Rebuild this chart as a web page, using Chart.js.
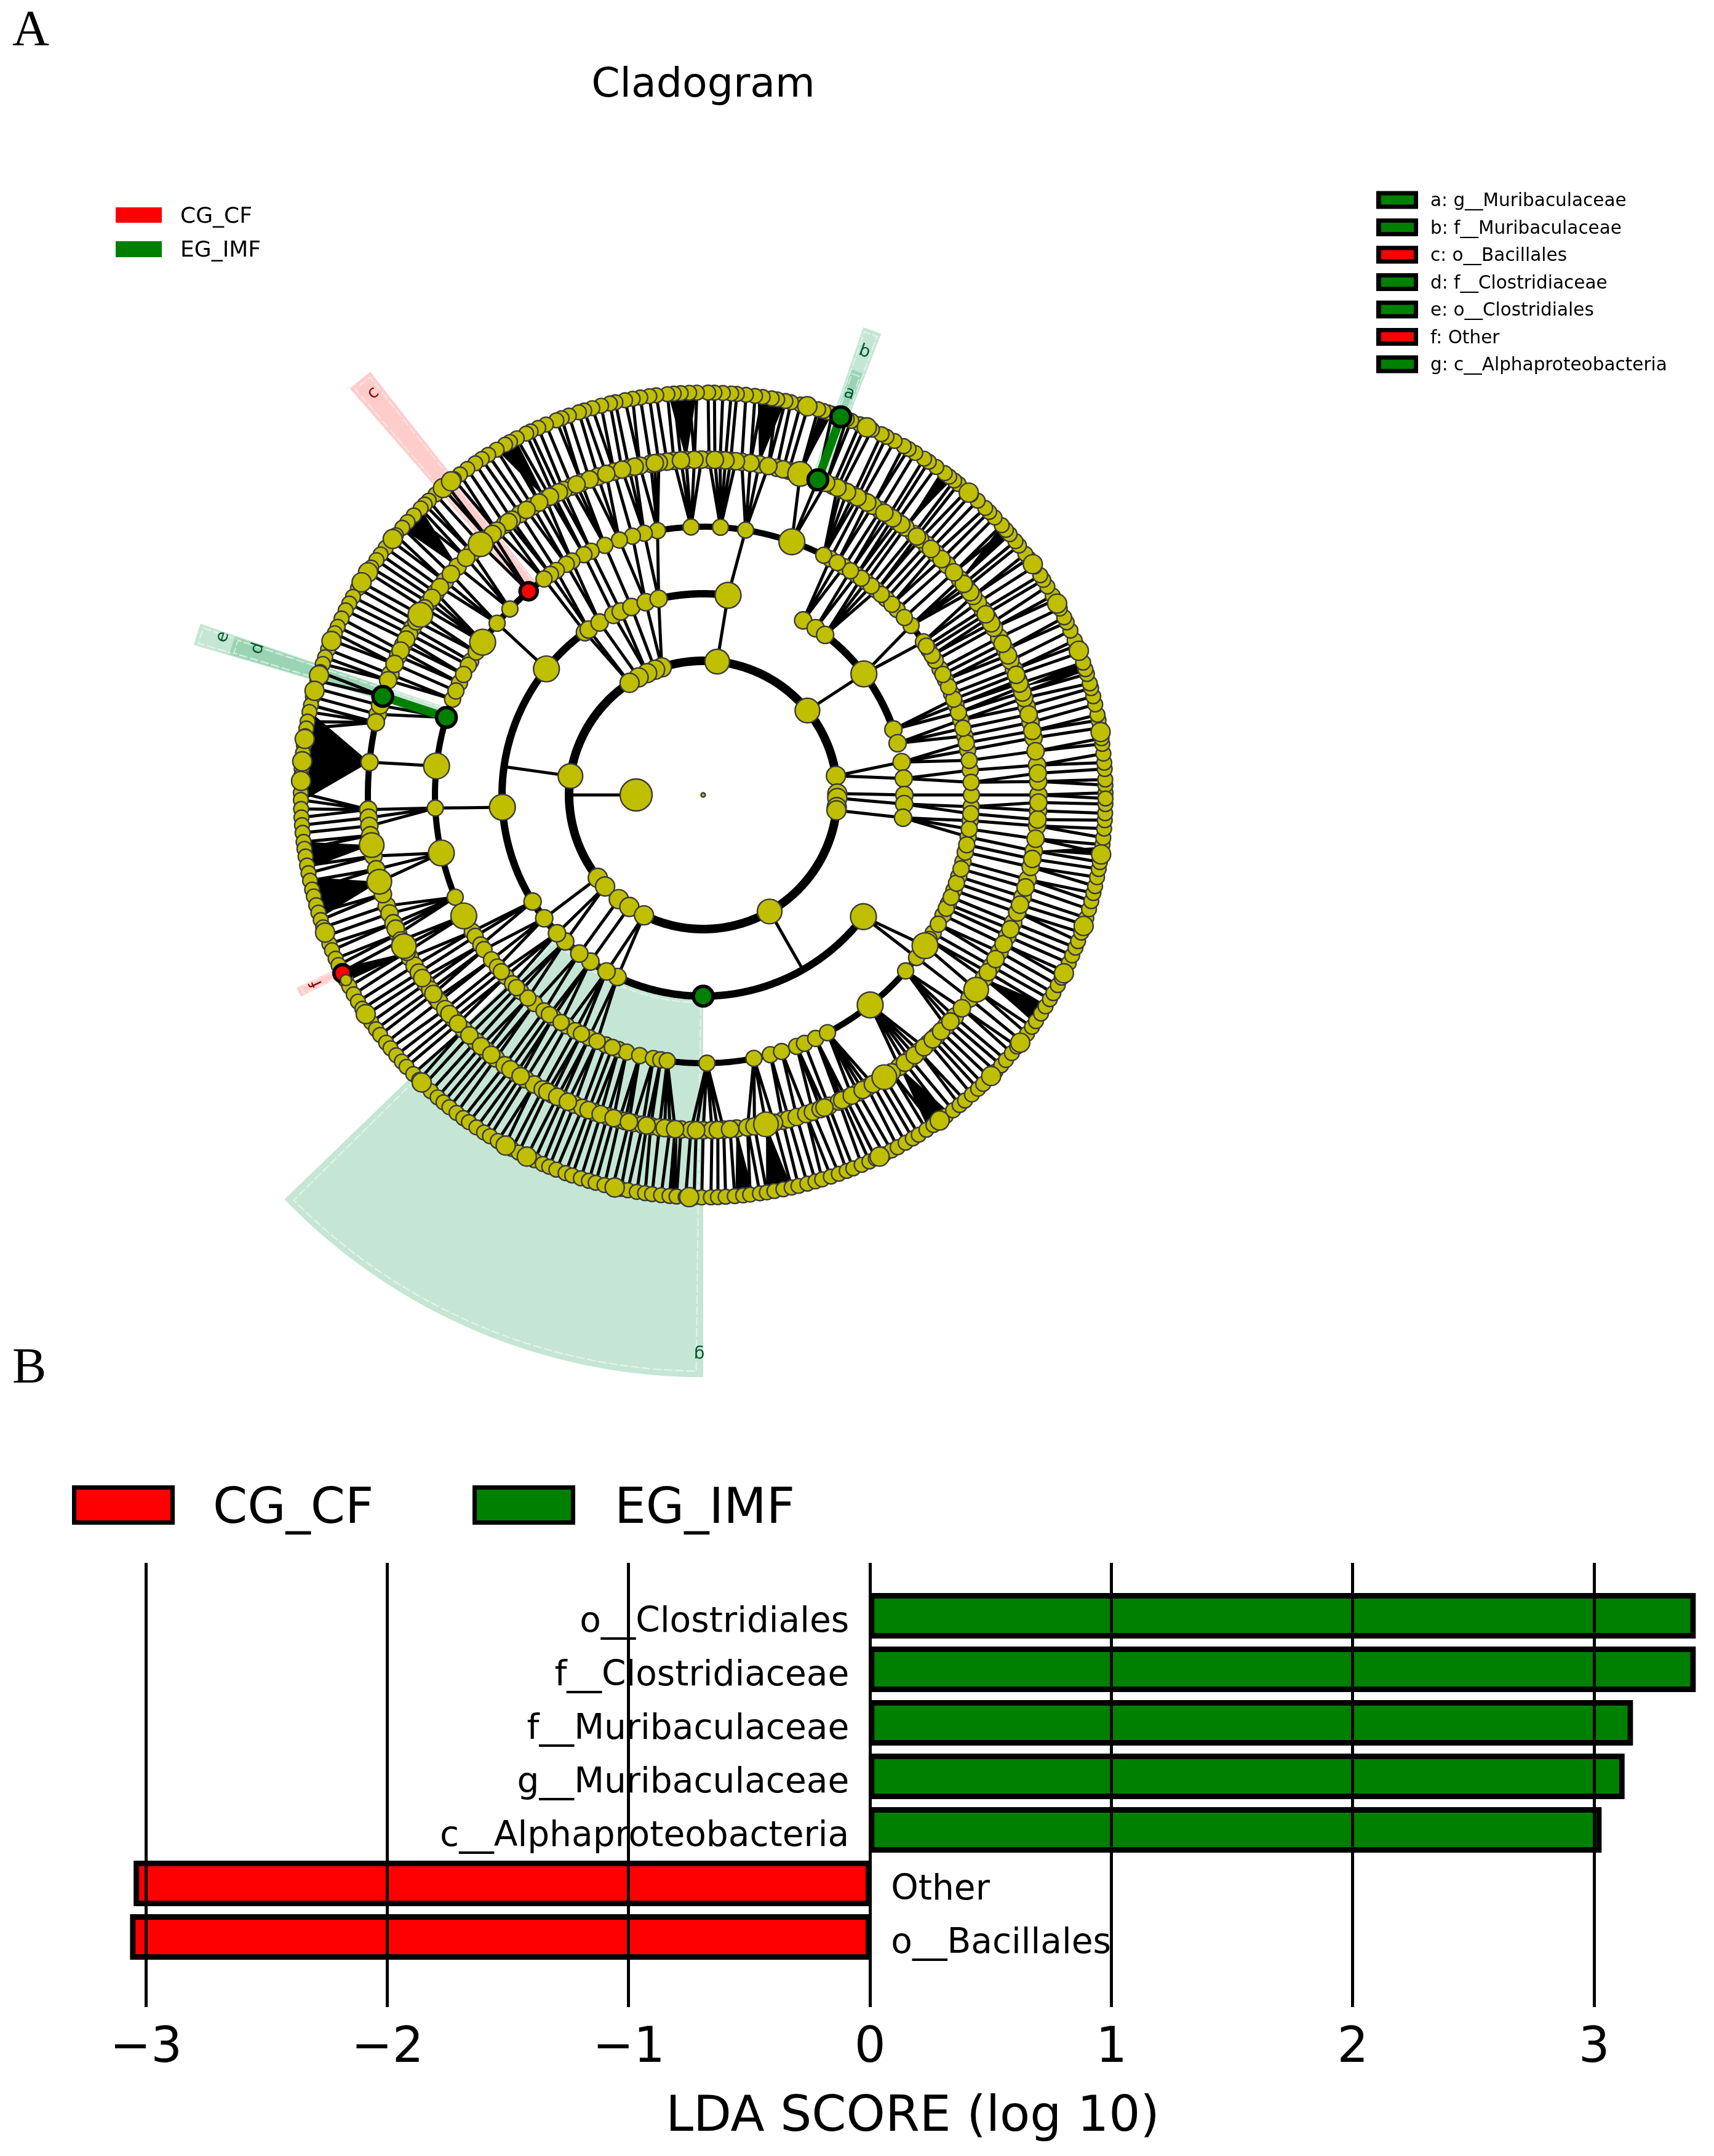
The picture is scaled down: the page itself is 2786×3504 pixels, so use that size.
<!DOCTYPE html>
<html><head><meta charset="utf-8">
<script src="https://cdn.jsdelivr.net/npm/chart.js@4"></script>
<style>html,body{margin:0;padding:0;background:#fff}canvas{position:absolute;left:0}</style>
</head><body>
<canvas id="clad" width="2786" height="2300" style="top:0"></canvas>
<canvas id="bars" width="2786" height="1204" style="top:2300px"></canvas>
<script>
/* ---------- Panel B values ---------- */
const taxaUp=['o__Clostridiales','f__Clostridiaceae','f__Muribaculaceae','g__Muribaculaceae','c__Alphaproteobacteria'];
const taxaDown=['Other','o__Bacillales'];
const ldaImf=[3.41,3.41,3.15,3.115,3.02];
const ldaCf=[-3.04,-3.055];
const groups=['CG_CF','EG_IMF'];
const biomarkers=['a: g__Muribaculaceae','b: f__Muribaculaceae','c: o__Bacillales','d: f__Clostridiaceae','e: o__Clostridiales','f: Other','g: c__Alphaproteobacteria'];
const biomarkerGroup=[1,1,0,1,1,0,1];

/* ---------- Panel A values: node angle (degrees) at each taxonomic level ---------- */
const kingdomNodes=[180];
const phylumNodes=[8.2,0.6,358.7,354.8,353.4,39,84,108,111,114.7,118.8,123.3,171.9,218.2,223,231,236.6,243.8,299.7];
const phylumBig=[39,84,171.9,299.7];
const classNodes=[322.8,244.8,241.3,235.9,232,226.7,223.4,217.8,212,183.5,141.2,126,124.7,121,116.5,114.2,110.9,106.6,102.8,82.9,60.2,56,52.7,37,19,14.9,9.4,4.7,0,357.4,353.5];
const classBig=[322.8,183.5,141.2,82.9,37];
const orderNodes=[136.1,140.2,145.3,150.1,151.1,155.3,159.1,173.8,182.8,192.5,202.4,206.8,210.6,211.8,214,215.2,217.9,219.9,222.6,224.7,227.1,231,233.6,236,239.4,241.5,244.8,248.7,251.6,253.4,256.3,259.3,260.9,262.3,270.8,280.9,284.5,287,290.4,292.2,294.8,297.6,308.5,319,322.7,325.8,329,333.4,336,339.2,342.3,345.6,347.7,351,354.5,357.5,0,5.3,9.6,12.7,16.2,19.6,22.2,25.4,28,30.1,32.7,34.8,39.2,43.7,47,49.7,52.6,55.1,58.3,61.7,63.3,70.7,80.9,86.3,92.6,99.8,102.7,105.3,108.2,111.5,114.7,116.4,119.3,120.7,123.2,124.7,126.4,2.7,7.4,11.2,14.4,17.9,20.9,23.8,26.7,31.4,33.7,41.4,45.3,48.4,51.2,53.9,56.7,60,327.4,331.2,335,337.6,340.8,344,349.3,352.7,356,229.2,225.9,221.2,246.7,250.2,235,238,243,147.8,153.3,157.2];
const orderBig=[70.7,145.3,206.8,308.5,325.8,192.5,173.8];
const familyNodes=[182.5,183.9,185.3,188.6,195,199.3,200.7,202.5,204.5,206.8,209,210.6,212,214.2,215.5,217.3,218,219.7,221.9,224.4,227.3,229.7,231.8,233.7,236.1,238,239.7,241.4,243.2,245.1,247.4,248.9,251,253.4,255.5,256.5,258,259.6,261,262.5,264.3,266.2,267.9,270,271.5,273.5,275.7,277.6,280.8,283.7,284.8,286.2,287.9,289.1,290.5,292,293.9,295.2,297.5,299.3,301.6,302.7,305.8,308.1,310.1,312.3,314.1,316.4,318.6,322.6,324.5,326.9,329.3,332.1,335.1,337.6,339.5,342.3,345.4,347.6,350.4,354.7,357.3,0,2.3,5.1,9.8,12.5,15.3,16.8,18.7,20,22,23.6,25.7,28,29.9,31.8,33.5,35,38.2,40,43.3,46.1,48.3,49.7,51.1,52.9,54.7,56.4,58.1,59.6,61.8,63.4,65.7,67.2,73.2,75.2,77.3,80.4,83.4,85.3,87.1,89,90.3,92.9,95,96.2,97.6,99,100.9,102.8,105.4,108.3,111.3,113.1,114.6,116.5,118,120.6,123.1,124.8,126.3,130,131.6,133.6,137.1,140.4,142.9,145,147.5,150.1,151.3,153.4,155.5,158.9,166.1,174.4,
3.7,7.5,11,13.9,17.8,19.4,21,24.6,26.8,30.8,32.6,36.4,37.2,39,41.6,44.7,47.2,50.4,53.8,55.6,57.3,60.7,62.6,64.6,66.4,68.5,74.3,76.2,78.8,81.9,84.4,86.2,88,91.5,93.8,98.3,101.8,104,106.8,109.8,112.2,115.5,117.2,119.3,121.8,125.5,128,128.9,135,138.8,141.7,144,146.2,148.8,152.4,154.5,157,160,164.5,167.5,186.9,190.5,192.8,197.2,203.5,205.7,207.9,213.1,216.4,220.8,223,225.8,228.5,230.8,234.9,237,242.3,244.2,246.2,250,252.2,254.5,257.2,260.3,263.4,265.2,268.8,272.5,274.6,278.8,282.2,291.2,294.5,296.3,298.4,300.4,304.2,307,309.1,311.2,313.2,315.2,317.5,320.5,328.1,330.7,333.6,336.4,340.9,344,349,352.5,355.8,358.7];
const familyBig=[206.8,324.5,302.7,147.5,195,188.6,73.2,131.6,280.8];
const genusNodes=[0.3,1.4,2.2,3.7,4.6,5.9,7.3,8.1,9.6,10.7,11.5,13,14.2,15.4,16.1,17.5,18.2,19.2,20.7,21.8,22.6,24.1,25.4,26.2,27.6,29,29.7,31.2,32.3,33.1,34.6,36,36.8,38.3,39.1,40.4,41.2,42.1,43.6,44.7,45.5,47,48.3,49.1,50.6,51.4,52.3,53.1,54.6,55.9,56.7,58.2,59.3,60.1,61.6,62.9,63.7,65.2,66.3,67.1,68.4,69.1,71.3,71.9,72.6,73.4,74.9,76,77.4,78.2,79.4,80.2,81.5,82.6,83.9,85.2,86,87.2,88.4,89.3,90.9,92,93.2,94.2,95.1,96.7,97.7,99,100.1,101.2,102.6,103.4,104.7,106,107.2,108,109.5,110.6,111.4,113,114.2,115.4,116.1,117.6,118.7,119.5,120.9,122.3,123.4,124.5,125.9,127.2,128.3,129.6,130.3,131.7,133,133.8,134.6,136,137.3,138.4,139.8,140.8,142.1,143.3,144.3,145.6,146.4,148.1,149.1,150.5,151.6,152.7,154,155.3,156.3,157.4,158.8,160,161,162.2,163.5,164.6,165.9,167.1,168.1,169.5,170.5,171.6,172.9,174,175,176.3,177.3,178.4,179.7,180.7,182,183.2,184.3,185.4,186.7,187.7,188.8,190.1,191.2,192.3,193.6,194.6,195.9,197,198.1,199.2,200.5,201.7,202.7,204,205,206.1,207.4,208.4,209.7,210.9,212.1,213.1,214.4,215.6,216.6,218,219,220.3,221.5,222.5,223.9,225.1,226.1,227.4,228.7,229.8,230.9,232.2,233.4,234.4,235.7,237,238,239.3,240.5,241.6,242.7,244,245.2,246.5,247.5,248.6,250,251,252.3,253.5,254.5,255.8,257,258.2,259.2,260.5,261.7,262.7,264,265.2,266.2,267.5,268.7,269.8,271.1,272.1,273.2,274.5,275.7,276.7,278.1,279.1,280.2,281.5,282.7,283.7,285,286.2,287.2,288.5,289.7,290.9,291.9,293.2,294.4,295.4,296.7,297.9,298.9,300.2,301.4,302.4,303.7,304.9,306.1,307.1,308.4,309.6,310.6,311.9,313.1,314.1,315.4,316.6,317.8,318.8,320.1,321.3,322.3,323.6,324.8,325.8,327.1,328.3,329.5,330.5,331.8,333,334,335.3,336.5,337.7,338.7,340,341.2,342.2,343.5,344.7,345.9,346.9,348.2,349.4,350.4,351.7,352.9,353.9,355.2,356.4,357.4,358.7,359.5];
const genusBig=[130.3,146.4,148.1,162.7,157.5,333.7,296,306,244,178,175.2,172,165,140.5,128.8,75,66,48.7,35,28.4,21,9,351.5,341,322,315.7,268,257.3,240.6,225.6,213,200];
/* biomarker nodes */
const greenNodes=[[3,270],[4,163.2],[5,162.9],[5,70],[6,70]];
const redNodes=[[4,130.6],[6,206.3]];
/* arcs that join sibling nodes: [from, to] degrees */
const phylumArcs=[[0,360]];
const classArcs=[[19,60],[82.9,322.8]];
const orderArcs=[[34,130.6],[130.6,322]];
const familyArcs=[[163,200]];
/* parents whose branch stops on an arc */
const stemKingdom=[180];
const stemPhylum=[171.9,299.7];
/* dense sibling fans: [parent angle, first child, last child] */
const solidFans=[[174.4,168,181],[188.6,186.7,190.6],[195,191.8,197.8],[137.1,134.6,138.5],[92.9,90.9,95],[118,117.8,120.9],[80.4,78.2,82.2],[73.2,71.3,73.1],[52.9,51.7,53.7],[40,40.2,42.1],[18.7,17.8,19.4],[350.4,351.3,352.6],[305.8,304,307.8],[280.8,279,282.7],[275.7,274.6,277.2],[326.9,325.4,328.6],[208,205.5,207.6],[265.6,265,266.2]];
/* highlighted clades: [centre angle, half span, inner level, outer radius level, letter] */
const cladeSectors=[
 {c:247,h:23,a:3.01,b:8.68,g:1,l:'g',lr:8.33,la:269.6},
 {c:129.6,h:1.4,a:4,b:8.03,g:0,l:'c',lr:7.75,la:129.4},
 {c:70,h:1.1,a:5.04,b:7.37,g:1,l:'b',lr:7.03,la:70},
 {c:70,h:.75,a:6.05,b:6.72,g:1,l:'a',lr:6.37,la:70},
 {c:162.4,h:1.2,a:4.03,b:7.92,g:1,l:'e',lr:7.54,la:161.8},
 {c:162.4,h:1.08,a:5.03,b:7.37,g:1,l:'d',lr:6.99,la:161.8},
 {c:206,h:.62,a:6,b:6.71,g:0,l:'f',lr:6.41,la:206}
];

const UNIT=109, CX=1143, CY=1292;
const rad=d=>d*Math.PI/180;
const P=(lvl,d)=>({x:lvl*Math.cos(rad(d)),y:lvl*Math.sin(rad(d))});
const adiff=(a,b)=>{const t=Math.abs(a-b)%360;return t>180?360-t:t;};
function links(children,cl,parents,pl,limit){
  const out=[];
  children.forEach(c=>{
    let best=null,bd=1e9;
    parents.forEach(p=>{const d=adiff(c,p);if(d<bd){bd=d;best=p;}});
    if(best!==null&&bd<=limit){out.push(P(pl,best),P(cl,c),{x:NaN,y:NaN});}
  });
  return out;
}
function stems(list,from,to){const o=[];list.forEach(a=>o.push(P(from,a),P(to,a),{x:NaN,y:NaN}));return o;}
function arcs(list,lvl){const o=[];list.forEach(([s,e])=>{for(let a=s;a<e;a+=1)o.push(P(lvl,a));o.push(P(lvl,e),{x:NaN,y:NaN});});return o;}
const nodes=(list,lvl)=>list.map(a=>P(lvl,a));
const line=(data,w,order,color)=>({type:'scatter',showLine:true,data,borderColor:color||'#000',borderWidth:w,pointRadius:0,order,spanGaps:false,borderCapStyle:'butt',tension:0.0001,clip:false});
const dots=(data,r,order,fill,bc,bw)=>({type:'scatter',data,pointRadius:r,pointBackgroundColor:fill||'#bfbf00',pointBorderColor:bc||'#3a3a3a',pointBorderWidth:bw||2.4,order,clip:false,showLine:false});
const classAll=classNodes, orderAll=orderNodes.concat([130.6,163.2]), familyAll=familyNodes.concat([70,162.9]);

const FONT='"DejaVu Sans"';
function txt(ctx,s,x,y,size,align,fam,color){ctx.font=size+'px '+(fam||FONT);ctx.textAlign=align||'left';ctx.textBaseline='alphabetic';ctx.fillStyle=color||'#000';ctx.fillText(s,x,y);}

const cladPlugin={id:'cladPaint',
 beforeDatasetsDraw(chart){
  const c=chart.ctx,xs=chart.scales.x,ys=chart.scales.y;
  const X=v=>xs.getPixelForValue(v),Y=v=>ys.getPixelForValue(v);
  const ox=X(0),oy=Y(0),u=Math.abs(X(1)-X(0));
  c.save();
  cladeSectors.forEach(s=>{
    c.beginPath();
    c.arc(ox,oy,s.a*u,-rad(s.c-s.h),-rad(s.c+s.h),true);
    c.arc(ox,oy,s.b*u,-rad(s.c+s.h),-rad(s.c-s.h),false);
    c.closePath();
    c.fillStyle=s.g?'rgba(30,160,90,0.26)':'rgba(255,0,0,0.2)';
    c.fill();
    const ih=s.h>5?s.h-.7:s.h*.72, pad=s.h>5?.09:.06;
    c.beginPath();
    c.arc(ox,oy,(s.a+pad)*u,-rad(s.c-ih),-rad(s.c+ih),true);
    c.arc(ox,oy,(s.b-pad)*u,-rad(s.c+ih),-rad(s.c-ih),false);
    c.closePath();
    c.strokeStyle='rgba(255,255,255,.55)';c.lineWidth=2;c.setLineDash([14,4]);c.stroke();c.setLineDash([]);
  });
  c.fillStyle='#000';
  solidFans.forEach(([p,a,b])=>{
    const A=P(5,p),B=P(6,a),D=P(6,b);
    c.beginPath();c.moveTo(X(A.x),Y(A.y));c.lineTo(X(B.x),Y(B.y));c.lineTo(X(D.x),Y(D.y));c.closePath();c.fill();
  });
  c.restore();
 },
 afterDraw(chart){
  const c=chart.ctx,xs=chart.scales.x,ys=chart.scales.y;
  c.save();
  cladeSectors.forEach(s=>{
    const p=P(s.lr,s.la);
    c.save();c.translate(xs.getPixelForValue(p.x),ys.getPixelForValue(p.y));
    c.rotate(-rad(s.la-90));
    c.font='28px '+FONT;c.textAlign='center';c.textBaseline='middle';
    c.fillStyle=s.g?'#005a2c':'#8c0000';c.fillText(s.l,0,0);c.restore();
  });
  txt(c,'A',20,73,83,'left','"Liberation Serif"');
  txt(c,'B',20,2247,83,'left','"Liberation Serif"');
  txt(c,'Cladogram',1143,157,66.5,'center');
  c.fillStyle='#ff0000';c.fillRect(188,337,75,25);
  c.fillStyle='#008000';c.fillRect(188,392,75,26);
  txt(c,groups[0],293,362,36);
  txt(c,groups[1],293,417,36);
  biomarkers.forEach((t,i)=>{
    const yc=325+i*44.5;
    c.fillStyle='#000';c.fillRect(2237,yc-14.5,68,29);
    c.fillStyle=biomarkerGroup[i]?'#008000':'#ff0000';c.fillRect(2245,yc-7.5,53,15);
    txt(c,t,2325,yc+10,29.5);
  });
  c.restore();
 }
};

new Chart(document.getElementById('clad'),{
 type:'scatter',
 data:{datasets:[
  line(arcs(phylumArcs,2),14,40),
  line(arcs(classArcs,3),12,39),
  line(arcs(orderArcs,4),10,38),
  line(arcs(familyArcs,5),10,37),
  line(stems(stemKingdom,1,2),5,36),
  line(stems(stemPhylum,2,3),5,36),
  line(links(classAll,3,phylumNodes,2,6),5,35),
  line(links(orderAll,4,classAll,3,3),5,34),
  line(links(familyAll,5,orderAll,4,3.4),5,33),
  line(links(genusNodes,6,familyAll,5,5),5,32),
  line([P(5,70),P(6,70)],14,31,'#008000'),
  line([P(4,163.2),P(5,162.9)],14,31,'#008000'),
  dots(nodes(genusNodes,6),12,30),
  dots(nodes(genusBig,6),15.5,29),
  dots(nodes(familyNodes,5),14,28),
  dots(nodes(familyBig,5),20,27),
  dots(nodes(orderNodes,4),13,26),
  dots(nodes(orderBig,4),21,25),
  dots(nodes(classNodes,3),14,24),
  dots(nodes(classBig,3),21,23),
  dots(nodes(phylumNodes,2),15.5,22),
  dots(nodes(phylumBig,2),20,21),
  dots(nodes(kingdomNodes,1),26,20),
  dots([{x:0,y:0}],3.5,19),
  dots(greenNodes.map(([l,a])=>P(l,a)),16,5,'#008000','#000',5.5),
  dots(redNodes.map(([l,a])=>P(l,a)),14,4,'#ff0000','#000',5.5),
  dots(nodes([207.4],6),9,3)
 ]},
 options:{responsive:false,animation:false,devicePixelRatio:1,events:[],
  layout:{padding:0,autoPadding:false},
  plugins:{legend:{display:false},tooltip:{enabled:false},title:{display:false}},
  scales:{
   x:{type:'linear',display:false,min:-CX/UNIT,max:(2786-CX)/UNIT},
   y:{type:'linear',display:false,min:-(2300-CY)/UNIT,max:CY/UNIT}
  }},
 plugins:[cladPlugin]
});

/* ---------- Panel B ---------- */
const barPlugin={id:'barPaint',
 afterDraw(chart){
  const c=chart.ctx,xs=chart.scales.x,ys=chart.scales.y;
  c.save();
  const x0=xs.getPixelForValue(0);
  taxaUp.forEach((t,i)=>txt(c,t,x0-34,ys.getPixelForValue(i)+26,56.6,'right'));
  taxaDown.forEach((t,i)=>txt(c,t,x0+34,ys.getPixelForValue(i+taxaUp.length)+26,56.6,'left'));
  [[117,'#ff0000',346,0],[768,'#008000',999,1]].forEach(([x,col,tx,i])=>{
    c.fillStyle='#000';c.fillRect(x,114,167,64);
    c.fillStyle=col;c.fillRect(x+7,121,153,50);
    txt(c,groups[i],tx,175,80.5);
  });
  c.restore();
 }
};
const barStyle={borderColor:'#000',borderWidth:9,borderSkipped:false,inflateAmount:4.5,barThickness:65,grouped:false,clip:false};
new Chart(document.getElementById('bars'),{
 type:'bar',
 data:{datasets:[
  Object.assign({label:groups[1],data:ldaImf.map((v,i)=>({x:v,y:i})),backgroundColor:'#008000'},barStyle),
  Object.assign({label:groups[0],data:ldaCf.map((v,i)=>({x:v,y:i+ldaImf.length})),backgroundColor:'#ff0000'},barStyle)
 ]},
 options:{indexAxis:'y',responsive:false,animation:false,devicePixelRatio:1,events:[],
  layout:{padding:{left:211,right:30,top:240,bottom:0},autoPadding:false},
  plugins:{legend:{display:false},tooltip:{enabled:false}},
  scales:{
   y:{type:'linear',display:false,reverse:true,offset:false,min:-0.988,max:7.31},
   x:{type:'linear',min:-3.067,max:3.42,
     border:{display:false},
     grid:{color:'#000',lineWidth:5,z:1,drawTicks:false},
     ticks:{stepSize:1,includeBounds:false,autoSkip:false,maxRotation:0,padding:20,color:'#000',font:{family:'DejaVu Sans',size:80},
       callback:v=>String(v).replace('-','\u2212')},
     title:{display:true,text:'LDA SCORE (log 10)',color:'#000',font:{family:'DejaVu Sans',size:80.5},padding:{top:0,bottom:14}},
     afterFit(s){s.height=242;s.paddingLeft=0;s.paddingRight=0;}
   }
  }},
 plugins:[barPlugin]
});
</script>
</body></html>
